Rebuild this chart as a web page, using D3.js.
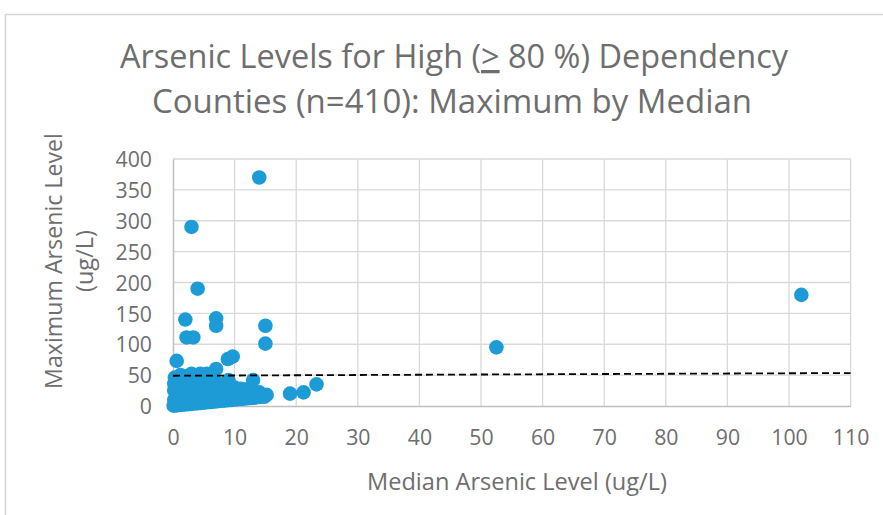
<!DOCTYPE html>
<html>
<head>
<meta charset="utf-8">
<script src="https://cdn.jsdelivr.net/npm/d3@7"></script>
<style>
  body { margin: 0; background: #fff; }
  svg { display: block; font-family: "Open Sans", Lato, sans-serif; }
</style>
</head>
<body>
<div id="chart"></div>
<script>
// Median (x) and maximum (y) arsenic level per county, ug/L
const medians = [
  // outliers
  14, 3, 4, 2, 7, 7, 2.2, 3.3, 15, 15, 0.6, 8.9, 9.7, 7, 52.5, 102,
  23.3, 21.2, 19, 15.2, 9, 13,
  // top of the cluster
  0.3, 1.2, 2, 3, 4.4, 5.5, 6.5,
  // ~35-40
  0.2, 1, 2, 3, 4, 5, 6, 7, 8,
  // ~25
  0.2, 1, 2, 3, 4, 5, 6, 7, 8, 9, 10, 11, 12,
  // ~12-20
  0.2, 1, 2, 3, 4, 5, 6, 7, 8, 9, 10, 11, 12, 13, 14,
  // along max = median
  0.1, 0.5, 1, 1.5, 2, 2.5, 3, 3.5, 4, 4.5, 5, 5.5, 6, 6.5, 7, 7.5, 8, 8.5, 9, 9.5,
  10, 10.5, 11, 11.5, 12, 12.5, 13, 13.5, 14, 14.8
];
const maximums = [
  370, 290, 190, 140, 142, 130, 111, 111, 130, 101, 73, 76, 80, 60, 95, 180,
  35, 22, 20, 18, 42, 42,
  46, 50, 48, 52, 52, 52, 46,
  36, 38, 36, 38, 37, 40, 35, 38, 34,
  25, 24, 26, 25, 27, 26, 28, 27, 28, 29, 30, 28, 27,
  10, 12, 12, 14, 15, 15, 16, 17, 18, 18, 19, 20, 21, 21, 22,
  0.5, 1, 1.5, 2, 2.5, 3, 3.5, 4, 4.5, 5, 5.5, 6, 6.5, 7, 7.5, 8, 8.5, 9, 9.5, 10,
  10.5, 11, 11.5, 12, 12.5, 13, 13.5, 14, 14.5, 15
];
// linear trendline end points
const trendX = [0, 110];
const trendY = [49, 53.4];

const xTicks = [0, 10, 20, 30, 40, 50, 60, 70, 80, 90, 100, 110];
const yTicks = [0, 50, 100, 150, 200, 250, 300, 350, 400];

const titleLines = ['Arsenic Levels for High (', ' 80 %) Dependency', 'Counties (n=410): Maximum by Median'];
const xTitle = 'Median Arsenic Level (ug/L)';
const yTitle = ['Maximum Arsenic Level', '(ug/L)'];

const width = 883, height = 515;
const plot = { left: 173, right: 850.6, top: 159, bottom: 406 };
const textColor = '#6e6e6e';
const dotColor = '#1d9bd6';

const svg = d3.select('#chart').append('svg')
  .attr('width', width).attr('height', height);

// scale a text's font so its width matches the reference width
function fit(sel, target) {
  const size = parseFloat(sel.style('font-size'));
  const len = sel.node().getComputedTextLength();
  sel.style('font-size', (size * target / len).toFixed(2) + 'px');
  return sel;
}

// chart border (runs off the right and bottom edges)
svg.append('rect')
  .attr('x', 5.5).attr('y', 14.5).attr('width', 950).attr('height', 600)
  .attr('fill', 'none').attr('stroke', '#d4d4d4').attr('stroke-width', 1.5);

const x = d3.scaleLinear().domain([0, 110]).range([plot.left, plot.right]);
const y = d3.scaleLinear().domain([0, 400]).range([plot.bottom, plot.top]);

// gridlines
const grid = svg.append('g').attr('stroke', '#d9d9d9').attr('stroke-width', 1.3);
grid.selectAll('.gx').data(xTicks.slice(1)).join('line')
  .attr('x1', d => x(d)).attr('x2', d => x(d))
  .attr('y1', plot.top).attr('y2', plot.bottom);
grid.selectAll('.gy').data(yTicks.slice(1)).join('line')
  .attr('x1', plot.left).attr('x2', plot.right)
  .attr('y1', d => y(d)).attr('y2', d => y(d));

// axes
const xAxis = svg.append('g').attr('transform', `translate(0,${plot.bottom})`)
  .call(d3.axisBottom(x).tickValues(xTicks).tickSize(0));
const yAxis = svg.append('g').attr('transform', `translate(${plot.left},0)`)
  .call(d3.axisLeft(y).tickValues(yTicks).tickSize(0).tickPadding(21));
[xAxis, yAxis].forEach(a => {
  a.select('.domain').attr('stroke', '#bfbfbf').attr('stroke-width', 1.5);
  a.selectAll('text').attr('fill', textColor).style('font-size', '18px')
    .style('font-family', '"Open Sans", sans-serif');
});
// tick font sized from the "400" label
const topTick = yAxis.selectAll('.tick text').filter(d => d === 400);
fit(topTick, 36.5);
const tickSize = topTick.style('font-size');
svg.selectAll('.tick text').style('font-size', tickSize);
xAxis.selectAll('text').attr('dy', 0).attr('y', 39);
yAxis.selectAll('text').attr('dy', '0.36em');

// trendline + dots
const pts = medians.map((m, i) => ({ m, v: maximums[i] }));
const trend = d3.line().x(d => x(d[0])).y(d => y(d[1]));
svg.append('g').selectAll('circle').data(pts).join('circle')
  .attr('cx', d => x(d.m)).attr('cy', d => y(d.v))
  .attr('r', 7.3).attr('fill', dotColor);
svg.append('path')
  .datum(trendX.map((t, i) => [t, trendY[i]]))
  .attr('d', trend)
  .attr('fill', 'none').attr('stroke', '#000').attr('stroke-width', 1.8)
  .attr('stroke-dasharray', '7,4');

// title
const t1 = svg.append('text').attr('x', 454).attr('y', 68).attr('text-anchor', 'middle')
  .attr('fill', textColor).style('font-size', '31px');
t1.append('tspan').text(titleLines[0]);
t1.append('tspan').style('text-decoration', 'underline').text('>');
t1.append('tspan').text(titleLines[1]);
fit(t1, 668);
const t2 = svg.append('text').attr('x', 452).attr('y', 113).attr('text-anchor', 'middle')
  .attr('fill', textColor).style('font-size', '31px').text(titleLines[2]);
fit(t2, 600);

// axis titles
fit(svg.append('text').attr('x', 517).attr('y', 490).attr('text-anchor', 'middle')
  .attr('fill', textColor).style('font-size', '20px').text(xTitle), 300);

fit(svg.append('text').attr('text-anchor', 'middle')
  .attr('transform', 'translate(62,261) rotate(-90)')
  .attr('fill', textColor).style('font-size', '20px').text(yTitle[0]), 256);
fit(svg.append('text').attr('text-anchor', 'middle')
  .attr('transform', 'translate(93,261) rotate(-90)')
  .attr('fill', textColor).style('font-size', '20px').text(yTitle[1]), 62);
</script>
</body>
</html>
